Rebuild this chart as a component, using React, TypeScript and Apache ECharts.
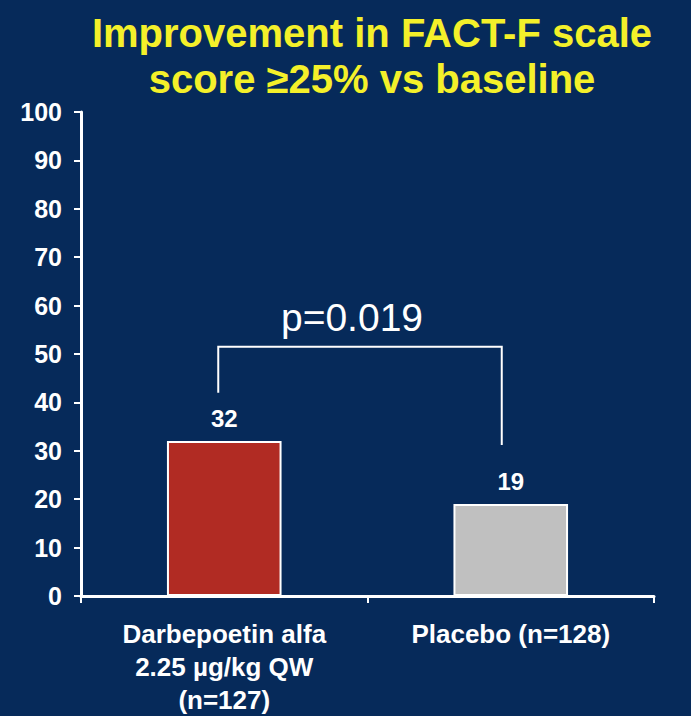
import React, { useEffect, useRef } from "react";
import * as echarts from "echarts";

const titleLines = ["Improvement in FACT-F scale", "score \u226525% vs baseline"];
const categories = ["Darbepoetin alfa\n2.25 \u00b5g/kg QW\n(n=127)", "Placebo (n=128)"];
const values = [32, 19];
const barColors = ["#b12b23", "#c0c0c0"];
const yMin = 0;
const yMax = 100;
const yStep = 10;
const pLabel = "p=0.019";
const bracketLevel = 51.5;
const bracketEnds = [42, 31.2];

const BG = "#062a5a";
const FONT = "'Liberation Sans', Arial, sans-serif";

export default function App() {
  const ref = useRef<HTMLDivElement>(null);
  useEffect(() => {
    if (!ref.current) return;
    const chart = echarts.init(ref.current, undefined, { renderer: "svg" });
    chart.setOption({
      animation: false,
      backgroundColor: BG,
      title: {
        text: titleLines.join("\n"),
        left: 367,
        top: 5,
        textAlign: "center",
        textStyle: {
          color: "#f4f02a",
          fontFamily: FONT,
          fontWeight: "bold",
          fontSize: 40,
          lineHeight: 46,
          align: "center",
        },
      },
      grid: { left: 81, right: 37, top: 112, bottom: 120, containLabel: false },
      xAxis: {
        type: "category",
        data: categories,
        axisLine: { lineStyle: { color: "#ffffff", width: 3 } },
        axisTick: { show: true, length: 7, lineStyle: { color: "#ffffff", width: 2 } },
        axisLabel: {
          color: "#ffffff",
          fontFamily: FONT,
          fontWeight: "bold",
          fontSize: 26,
          lineHeight: 33,
          margin: 21,
          interval: 0,
        },
      },
      yAxis: {
        type: "value",
        min: yMin,
        max: yMax,
        interval: yStep,
        splitLine: { show: false },
        axisLine: { show: true, lineStyle: { color: "#ffffff", width: 3 } },
        axisTick: { show: true, length: 7, lineStyle: { color: "#ffffff", width: 2 } },
        axisLabel: {
          color: "#ffffff",
          fontFamily: FONT,
          fontWeight: "bold",
          fontSize: 25,
          margin: 19,
        },
      },
      series: [
        {
          type: "bar",
          barWidth: "40%",
          data: values.map((v, i) => ({
            value: v,
            itemStyle: { color: barColors[i], borderColor: "#ffffff", borderWidth: 2 },
          })),
          label: {
            show: true,
            position: "top",
            distance: 11,
            color: "#ffffff",
            fontFamily: FONT,
            fontWeight: "bold",
            fontSize: 24,
          },
        },
        {
          type: "custom",
          data: [0],
          silent: true,
          renderItem: (_params: any, api: any) => {
            const top0 = api.coord([0, bracketLevel]);
            const top1 = api.coord([1, bracketLevel]);
            const end0 = api.coord([0, bracketEnds[0]]);
            const end1 = api.coord([1, bracketEnds[1]]);
            const x0 = top0[0] - 6;
            const x1 = top1[0] - 9;
            return {
              type: "group",
              children: [
                {
                  type: "polyline",
                  shape: {
                    points: [
                      [x0, end0[1]],
                      [x0, top0[1]],
                      [x1, top1[1]],
                      [x1, end1[1]],
                    ],
                  },
                  style: { stroke: "#ffffff", lineWidth: 2, fill: "none" },
                },
                {
                  type: "text",
                  x: (x0 + x1) / 2 - 8,
                  y: top0[1] - 29,
                  style: {
                    text: pLabel,
                    fill: "#ffffff",
                    font: "normal 39px 'Liberation Sans', Arial, sans-serif",
                    align: "center",
                    verticalAlign: "middle",
                  },
                },
              ],
            };
          },
        },
      ],
    });
    return () => chart.dispose();
  }, []);
  return (
    <div
      ref={ref}
      style={{ position: "fixed", left: 0, top: 0, width: 691, height: 716 }}
    />
  );
}
